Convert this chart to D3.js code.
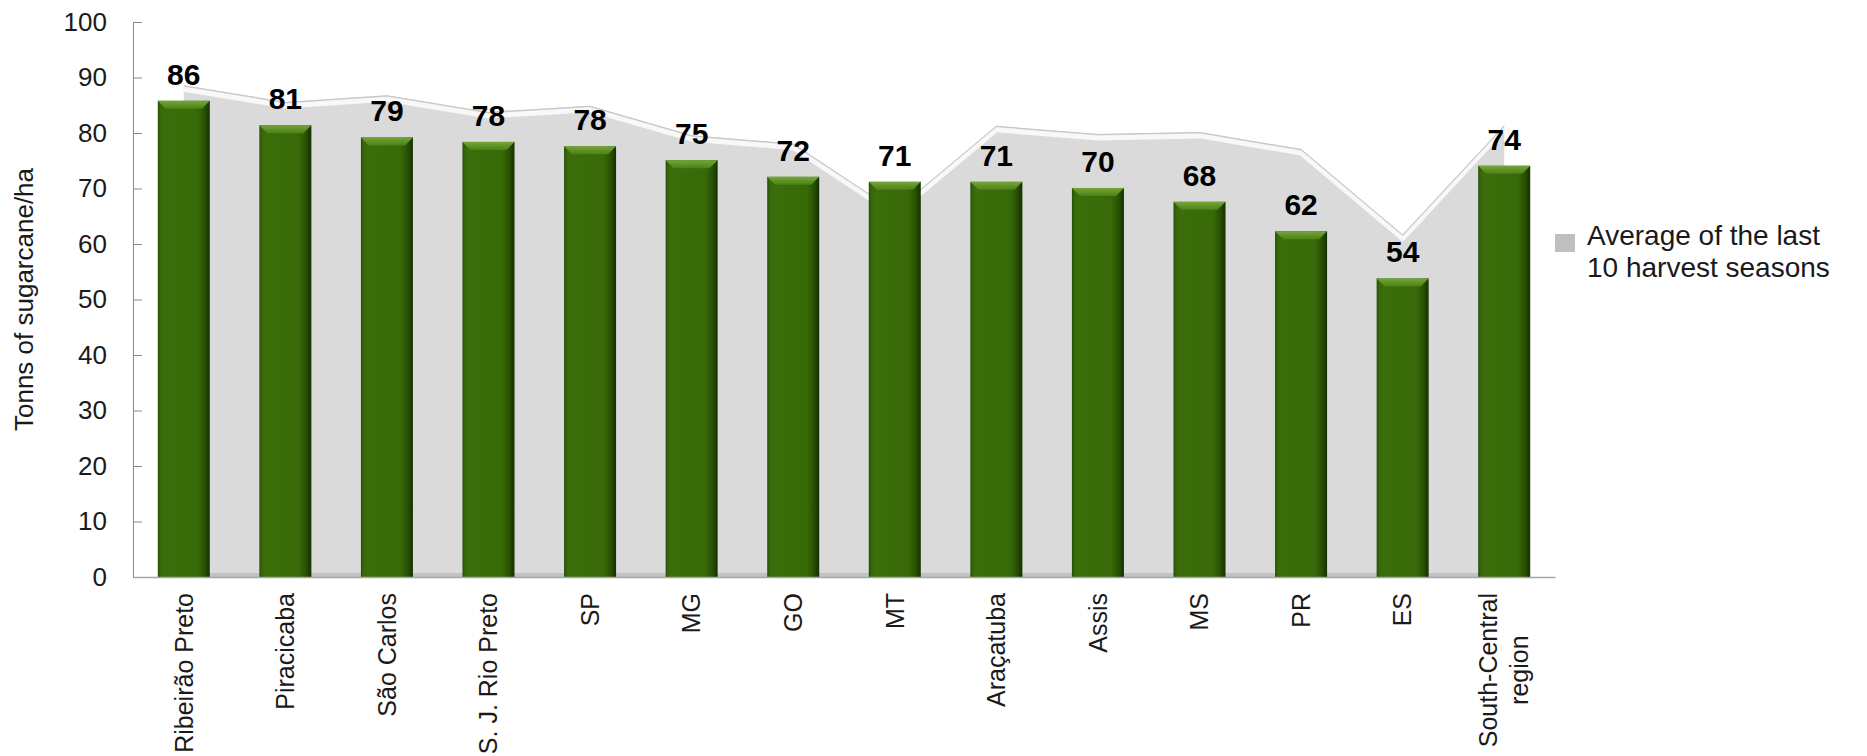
<!DOCTYPE html>
<html><head><meta charset="utf-8">
<script src="https://cdn.jsdelivr.net/npm/d3@7"></script>
<style>
body{margin:0;background:#fff}
svg{display:block}
text{font-family:Arial,"Liberation Sans",sans-serif;fill:#111}
</style>
</head><body>
<svg id="c" width="1867" height="756"></svg>
<script>
// ---- data ----
const categories = ["Ribeirão Preto","Piracicaba","São Carlos","S. J. Rio Preto","SP","MG","GO","MT","Araçatuba","Assis","MS","PR","ES","South-Central region"];
const currentSeason = [85.8,81.4,79.2,78.4,77.6,75.1,72.1,71.2,71.2,70.1,67.6,62.3,53.8,74.1];
const tenSeasonAverage = [88.6,85.6,86.8,83.8,84.9,79.6,78.1,66.0,81.3,79.8,80.2,77.1,61.7,81.4];
const yTicks = [0,10,20,30,40,50,60,70,80,90,100];
const yTitle = "Tonns of sugarcane/ha";
const legendLines = ["Average of the last","10 harvest seasons"];

// ---- layout ----
const W = 1867, H = 756;
const plot = {left:133, right:1555, top:22, bottom:577};
const svg = d3.select("#c");

const x = d3.scaleBand().domain(categories).range([plot.left, plot.right])
  .paddingInner(0.488).paddingOuter(0.244);
const y = d3.scaleLinear().domain([0,100]).range([plot.bottom, plot.top]);
const cx = d => x(d) + x.bandwidth()/2;

const defs = svg.append("defs");
const bg = defs.append("linearGradient").attr("id","barGrad").attr("x1","0").attr("x2","1").attr("y1","0").attr("y2","0");
[[0,"#244d08"],[0.05,"#356909"],[0.12,"#3b6e0a"],[0.76,"#386a08"],[0.9,"#285004"],[1,"#143002"]]
  .forEach(([o,c]) => bg.append("stop").attr("offset",o).attr("stop-color",c));
const tg = defs.append("linearGradient").attr("id","topGrad").attr("x1","0").attr("x2","0").attr("y1","0").attr("y2","1");
[[0,"#74a638"],[1,"#4b8117"]].forEach(([o,c]) => tg.append("stop").attr("offset",o).attr("stop-color",c));

// ---- area (average of last 10 seasons) ----
const areaGen = d3.area().x((d,i)=>cx(categories[i])).y0(y(0)).y1(d=>y(d));
const lineGen = d3.line().x((d,i)=>cx(categories[i])).y(d=>y(d));
defs.append("clipPath").attr("id","areaClip").append("path").attr("d", areaGen(tenSeasonAverage));

svg.append("path").attr("d", areaGen(tenSeasonAverage)).attr("fill","#dadada");
const edge = svg.append("g").attr("clip-path","url(#areaClip)");
edge.append("path").attr("d", lineGen(tenSeasonAverage)).attr("transform","translate(0,4)")
  .attr("fill","none").attr("stroke","#f8f8f8").attr("stroke-width",5).attr("stroke-linejoin","round");
edge.append("path").attr("d", lineGen(tenSeasonAverage))
  .attr("fill","none").attr("stroke","#c6c6c6").attr("stroke-width",2).attr("stroke-linejoin","round");
// floor edge
svg.append("rect").attr("x", cx(categories[0])).attr("width", cx(categories[categories.length-1]) - cx(categories[0]))
  .attr("y", y(0)-4).attr("height",4).attr("fill","#c2c2c2");

// ---- bars ----
const bars = svg.append("g").selectAll("g").data(currentSeason).join("g");
bars.append("rect")
  .attr("x",(d,i)=>x(categories[i])).attr("width",x.bandwidth())
  .attr("y",d=>y(d)).attr("height",d=>y(0)-y(d))
  .attr("fill","url(#barGrad)");
bars.append("path").attr("fill","url(#topGrad)")
  .attr("d",(d,i)=>{
    const x0 = x(categories[i]), x1 = x0 + x.bandwidth(), t = y(d), b = 8;
    return `M${x0},${t}L${x1},${t}L${x1-b},${t+b}L${x0+b},${t+b}Z`;
  });

// value labels
const fmt = d3.format(".0f");
svg.append("g").selectAll("text").data(currentSeason).join("text")
  .attr("x",(d,i)=>cx(categories[i])).attr("y",d=>y(d)-16)
  .attr("text-anchor","middle").attr("font-size",30).attr("font-weight","bold")
  .style("fill","#000").text(d=>fmt(d));

// ---- axes ----
const yAxis = d3.axisLeft(y).tickValues(yTicks).tickSizeInner(-9).tickSizeOuter(0).tickPadding(26);
const ya = svg.append("g").attr("transform",`translate(${plot.left},0)`).call(yAxis);
ya.select(".domain").attr("stroke","#8a8a8a");
ya.selectAll(".tick line").attr("stroke","#8a8a8a");
ya.selectAll(".tick text").attr("font-size",26).attr("font-family","Arial, 'Liberation Sans', sans-serif").style("fill","#1a1a1a");

const xAxis = d3.axisBottom(x).tickSize(0).tickFormat("");
const xa = svg.append("g").attr("transform",`translate(0,${plot.bottom})`).call(xAxis);
xa.select(".domain").attr("stroke","#a6a6a6").attr("stroke-width",1.5);

// category labels (rotated, wrapped, centre-aligned)
const catFont = 25, lineH = 31, maxW = 175, labelTop = 593;
const catG = svg.append("g");
categories.forEach(c => {
  const tmp = catG.append("text").attr("font-size",catFont);
  const words = c.split(" ");
  const lines = []; let cur = "";
  words.forEach(w => {
    const test = cur ? cur + " " + w : w;
    tmp.text(test);
    if (tmp.node().getComputedTextLength() > maxW && cur) { lines.push(cur); cur = w; }
    else cur = test;
  });
  lines.push(cur);
  const lens = lines.map(l => { tmp.text(l); return tmp.node().getComputedTextLength(); });
  tmp.remove();
  const maxLen = d3.max(lens);
  const n = lines.length;
  const g = catG.append("g").attr("transform",`translate(${cx(c)},${labelTop}) rotate(-90)`);
  lines.forEach((l,i) => {
    g.append("text").attr("font-size",catFont).attr("text-anchor","middle")
      .attr("x", -maxLen/2).attr("y", (i-(n-1)/2)*lineH).attr("dy","0.35em")
      .style("fill","#1a1a1a").text(l);
  });
});

// y title
svg.append("text").attr("transform",`translate(24,${(plot.top+plot.bottom)/2}) rotate(-90)`)
  .attr("text-anchor","middle").attr("dy","0.35em").attr("font-size",26).style("fill","#1a1a1a").text(yTitle);

// legend
const lg = svg.append("g");
lg.append("rect").attr("x",1555).attr("y",234).attr("width",20).attr("height",18).attr("fill","#bfbfbf");
legendLines.forEach((l,i)=>{
  lg.append("text").attr("x",1587).attr("y",245+i*32).attr("font-size",28).style("fill","#1a1a1a").text(l);
});
</script>
</body></html>
